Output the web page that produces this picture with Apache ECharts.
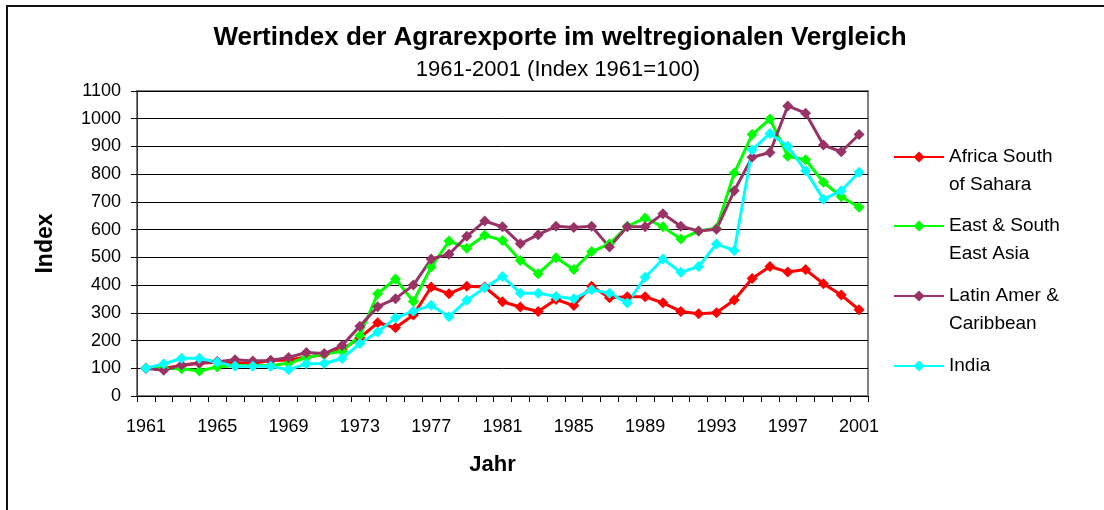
<!DOCTYPE html>
<html>
<head>
<meta charset="utf-8">
<script src="https://cdn.jsdelivr.net/npm/echarts@6/dist/echarts.min.js"></script>
<style>
  html, body { margin: 0; padding: 0; background: #fff; }
  #chart { width: 1104px; height: 510px; }
  #frame { position: absolute; left: 6px; top: 5px; width: 1110px; height: 520px; border: 2px solid #111; box-sizing: border-box; pointer-events: none; }
</style>
</head>
<body>
<div id="chart"></div>
<div id="frame"></div>
<script>
const years = [];
for (let y = 1961; y <= 2001; y++) years.push(String(y));

const africa = [100, 100, 110, 118, 122, 118, 118, 128, 130, 140, 150, 167, 210, 264, 246, 292, 393, 369, 396, 393,
  340, 321, 305, 348, 326, 396, 354, 358, 358, 336, 305, 297, 300, 346, 424, 467, 447, 456, 405, 364, 311];
const eastAsia = [100, 100, 98, 90, 105, 110, 110, 110, 118, 139, 151, 161, 218, 369, 422, 341, 465, 559, 533, 580,
  561, 489, 441, 499, 456, 521, 549, 612, 642, 610, 566, 595, 605, 804, 943, 999, 865, 852, 771, 719, 681];
const latin = [100, 93, 112, 119, 124, 131, 126, 128, 139, 157, 153, 182, 252, 322, 351, 400, 494, 511, 576, 631,
  610, 549, 582, 612, 608, 612, 537, 610, 610, 657, 612, 595, 601, 740, 861, 878, 1046, 1020, 905, 881, 943];
const india = [100, 116, 136, 136, 122, 107, 107, 107, 95, 116, 117, 135, 189, 231, 282, 306, 327, 286, 345, 390,
  431, 371, 371, 359, 351, 383, 371, 335, 428, 494, 446, 467, 548, 525, 887, 947, 901, 812, 710, 740, 807];

const names = ['Africa South\nof Sahara', 'East & South\nEast Asia', 'Latin Amer &\nCaribbean', 'India'];
const colors = ['#ff0000', '#00ff00', '#993366', '#00ffff'];
const values = [africa, eastAsia, latin, india];

const chart = echarts.init(document.getElementById('chart'));
const font = 'Liberation Sans, Arial, sans-serif';

const legendTops = [115, 184, 254, 352];

chart.setOption({
  backgroundColor: '#fff',
  animation: false,
  textStyle: { fontFamily: font, color: '#000' },
  title: [
    {
      text: 'Wertindex der Agrarexporte im weltregionalen Vergleich',
      left: 555, top: 20, textAlign: 'center',
      textStyle: { fontSize: 26, fontWeight: 'bold', color: '#000', fontFamily: font }
    },
    {
      text: '1961-2001 (Index 1961=100)',
      left: 553, top: 54, textAlign: 'center',
      textStyle: { fontSize: 22, fontWeight: 'normal', color: '#000', fontFamily: font }
    }
  ],
  // one legend per series; the leading blank line puts the first text line level with the icon
  legend: names.map((n, i) => ({
    data: [n],
    orient: 'vertical',
    left: 893,
    top: legendTops[i],
    padding: 0,
    itemWidth: 50,
    itemHeight: 14,
    itemGap: 0,
    formatter: (name) => (name.indexOf('\n') >= 0 ? '\n' + name : name),
    textStyle: { fontSize: 19, lineHeight: 28, color: '#000', fontFamily: font }
  })),
  grid: { left: 137, right: 236, top: 91, bottom: 114, containLabel: false, show: true, borderColor: '#808080', borderWidth: 2 },
  xAxis: {
    type: 'category',
    data: years,
    boundaryGap: true,
    name: 'Jahr',
    nameLocation: 'middle',
    nameGap: 58,
    nameTextStyle: { fontSize: 22, fontWeight: 'bold', color: '#000', padding: [0, 20, 0, 0] },
    axisLine: { lineStyle: { color: '#000', width: 1 } },
    axisTick: { show: true, interval: 0, length: 6, lineStyle: { color: '#000' } },
    axisLabel: { interval: 3, fontSize: 18, color: '#000', margin: 22 },
    splitLine: { show: false }
  },
  yAxis: {
    type: 'value',
    min: 0, max: 1100, interval: 100,
    name: 'Index',
    nameLocation: 'middle',
    nameGap: 80,
    nameTextStyle: { fontSize: 23, fontWeight: 'bold', color: '#000' },
    axisLine: { show: true, lineStyle: { color: '#333', width: 1 } },
    axisTick: { show: true, length: 6, lineStyle: { color: '#000' } },
    axisLabel: { fontSize: 18, color: '#000', margin: 16, formatter: (v) => String(v) },
    splitLine: { lineStyle: { color: '#000', width: 1 } }
  },
  series: names.map((n, i) => ({
    name: n,
    type: 'line',
    data: values[i],
    symbol: 'diamond',
    symbolSize: 11,
    lineStyle: { color: colors[i], width: 3 },
    itemStyle: { color: colors[i] }
  }))
});
</script>
</body>
</html>
